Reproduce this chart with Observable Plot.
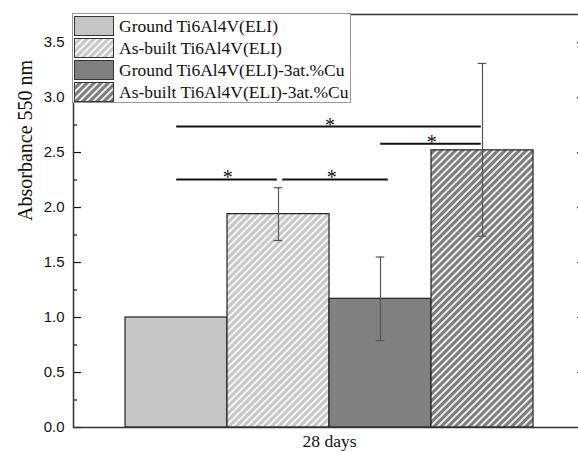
<!DOCTYPE html>
<html>
<head>
<meta charset="utf-8">
<script src="https://cdn.jsdelivr.net/npm/d3@7"></script>
<script src="https://cdn.jsdelivr.net/npm/@observablehq/plot@0.6"></script>
<style>
  html, body { margin: 0; padding: 0; background: #fff; }
  #wrap { position: relative; width: 578px; height: 452px; overflow: hidden; background: #fff; }
  #chart svg { max-width: none !important; display: block; }
  #legend { position: absolute; left: 72px; top: 13px; width: 279px; height: 90px; border: 1px solid #999; background: #fff; box-sizing: border-box; }
  .row { position: absolute; left: 1px; height: 20px; display: flex; align-items: center; font-family: "Liberation Serif", "Times New Roman", serif; font-size: 17.5px; color: #111; white-space: nowrap; }
  .sw { width: 38px; height: 18px; border: 1px solid #333; margin-right: 5px; flex: none; }
</style>
</head>
<body>
<svg width="0" height="0" style="position:absolute">
  <defs>
    <pattern id="hatchLight" patternUnits="userSpaceOnUse" width="5" height="5" patternTransform="rotate(45)">
      <rect width="5" height="5" fill="#c6c6c6"></rect>
      <line x1="1" y1="0" x2="1" y2="5" stroke="#ffffff" stroke-width="1.7"></line>
    </pattern>
    <pattern id="hatchDark" patternUnits="userSpaceOnUse" width="5" height="5" patternTransform="rotate(45)">
      <rect width="5" height="5" fill="#7c7c7c"></rect>
      <line x1="1" y1="0" x2="1" y2="5" stroke="#ffffff" stroke-width="1.7"></line>
    </pattern>
  </defs>
</svg>
<div id="wrap"><div id="chart"></div><div id="legend"></div></div>
<script>
// ---- data ----
const groups = ["Ground Ti6Al4V(ELI)", "As-built Ti6Al4V(ELI)", "Ground Ti6Al4V(ELI)-3at.%Cu", "As-built Ti6Al4V(ELI)-3at.%Cu"];
const means = [1.00, 1.94, 1.17, 2.52];
const errLow = [null, 1.70, 0.79, 1.74];
const errHigh = [null, 2.18, 1.55, 3.31];
const fills = ["#c6c6c6", "url(#hatchLight)", "#808080", "url(#hatchDark)"];
const sigFrom = [0, 1, 0, 2];
const sigTo = [1, 2, 3, 3];
const sigY = [2.255, 2.255, 2.736, 2.58];
const majorTicks = [0, 0.5, 1.0, 1.5, 2.0, 2.5, 3.0, 3.5];
const minorTicks = [0.25, 0.75, 1.25, 1.75, 2.25, 2.75, 3.25, 3.75];
const xLabel = "28 days";
const yLabel = "Absorbance 550 nm";

// ---- layout ----
const W = 590, H = 452, mL = 73, mR = 5, mT = 14, mB = 25;
const plotW = W - mL - mR;
const bw = plotW / 5;

const bars = groups.map((g, i) => ({group: g, value: means[i], fill: fills[i]}));
const errs = groups.map((g, i) => ({group: g, lo: errLow[i], hi: errHigh[i]})).filter(d => d.lo != null);
const sigs = sigFrom.map((f, i) => ({from: groups[f], to: groups[sigTo[i]], y: sigY[i], span: sigTo[i] - sigFrom[i], idx: i}));

const marks = [
  Plot.barY(bars, {x: "group", y: "value", fill: d => d.fill, stroke: "#222", strokeWidth: 1.2}),
  Plot.ruleX(errs, {x: "group", y1: "lo", y2: "hi", stroke: "#555", strokeWidth: 1.2}),
  Plot.tickY(errs, {x: "group", y: "lo", stroke: "#555", strokeWidth: 1.2, insetLeft: bw / 2 - 4.5, insetRight: bw / 2 - 4.5}),
  Plot.tickY(errs, {x: "group", y: "hi", stroke: "#555", strokeWidth: 1.2, insetLeft: bw / 2 - 4.5, insetRight: bw / 2 - 4.5}),
  Plot.ruleY(sigs.filter(d => d.idx !== 1), {y: "y", x1: "from", x2: "to", stroke: "#111", strokeWidth: 2, insetLeft: bw / 2, insetRight: bw / 2 + 1}),
  Plot.ruleY(sigs.filter(d => d.idx === 1), {y: "y", x1: "from", x2: "to", stroke: "#111", strokeWidth: 2, insetLeft: bw / 2 + 4, insetRight: bw / 2 - 8}),
  ...sigs.map(s => Plot.text([s], {x: "from", y: "y", text: () => "*", dx: s.span * bw / 2 + (s.idx === 1 ? 2 : 0), dy: 5, lineAnchor: "bottom", fontSize: 20, fill: "#111"})),
  Plot.tickY(majorTicks, {y: d => d, stroke: "#111", strokeWidth: 1.2, insetRight: plotW - 8}),
  Plot.tickY(minorTicks, {y: d => d, stroke: "#111", strokeWidth: 1.2, insetRight: plotW - 4}),
  Plot.tickY(majorTicks, {y: d => d, stroke: "#111", strokeWidth: 1.2, insetLeft: plotW - 8}),
  Plot.axisY(majorTicks, {anchor: "left", tickSize: 0, tickPadding: 9, tickFormat: d3.format(".1f"), fontSize: 15, fontFamily: "Liberation Sans, Arial, sans-serif", fill: "#111", label: null}),
  Plot.frame({stroke: "#333", strokeWidth: 1.5}),
  Plot.text([xLabel], {frameAnchor: "bottom", dy: 19, fontSize: 17.5, fontFamily: "Liberation Serif, Times New Roman, serif", fill: "#111", lineAnchor: "bottom"}),
  Plot.text([yLabel], {frameAnchor: "left", dx: -48, rotate: -90, fontSize: 20, fontFamily: "Liberation Serif, Times New Roman, serif", fill: "#111"})
];

const chart = Plot.plot({
  width: W, height: H,
  marginLeft: mL, marginRight: mR, marginTop: mT, marginBottom: mB,
  x: {type: "band", domain: groups, paddingInner: 0, paddingOuter: 0.5, axis: null},
  y: {domain: [0, 3.755], axis: null},
  style: {fontFamily: "Liberation Serif, serif", background: "transparent", overflow: "visible", maxWidth: "none"},
  marks
});
document.getElementById("chart").appendChild(chart);

// legend
const legend = document.getElementById("legend");
groups.forEach((g, i) => {
  const row = document.createElement("div");
  row.className = "row";
  row.style.top = (2 + i * 22) + "px";
  const sw = document.createElementNS("http://www.w3.org/2000/svg", "svg");
  sw.setAttribute("class", "sw");
  sw.setAttribute("width", 38); sw.setAttribute("height", 18);
  const r = document.createElementNS("http://www.w3.org/2000/svg", "rect");
  r.setAttribute("width", 38); r.setAttribute("height", 18); r.setAttribute("fill", fills[i]);
  sw.appendChild(r);
  row.appendChild(sw);
  const t = document.createElement("span");
  t.textContent = g;
  row.appendChild(t);
  legend.appendChild(row);
});
</script>
</body>
</html>
